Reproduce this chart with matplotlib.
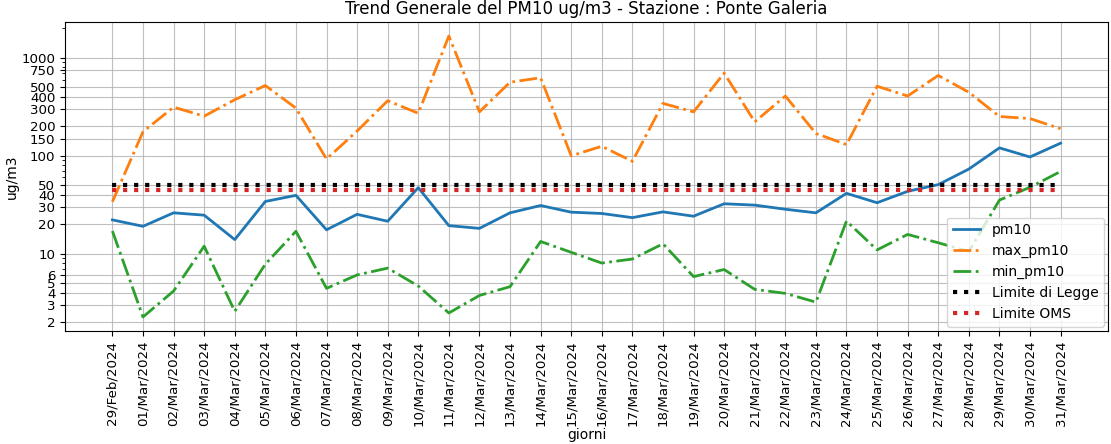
import matplotlib
matplotlib.use("Agg")
import matplotlib.pyplot as plt
import numpy as np

days = ["29/Feb/2024"] + [f"{d:02d}/Mar/2024" for d in range(1, 32)]

pm10 = [22.1, 19.0, 26.1, 24.7, 13.9, 34.1, 39.4, 17.5, 25.2, 21.4, 47.2,
        19.3, 18.1, 26.1, 31.0, 26.5, 25.7, 23.3, 26.7, 24.1, 32.3, 31.3,
        28.4, 26.1, 41.3, 33.1, 43.3, 50.7, 73.1, 120.4, 97.2, 134.5]
max_pm10 = [33.9, 176, 314, 254, 374, 522, 307, 92.7, 179, 365, 272,
            1675, 281, 565, 627, 100, 125, 87.7, 343, 281, 700, 222,
            408, 169, 130, 514, 408, 662, 446, 252, 240, 189]
min_pm10 = [17.0, 2.25, 4.14, 11.9, 2.57, 7.8, 16.9, 4.41, 6.05, 7.1, 4.66,
            2.47, 3.73, 4.59, 13.3, 10.3, 8.0, 8.8, 12.6, 5.82, 6.87, 4.31,
            3.92, 3.19, 21.5, 10.9, 15.7, 12.9, 10.5, 35.2, 47.6, 69.1]
limite_legge = [50] * len(days)
limite_oms = [45] * len(days)

yticks = [2, 3, 4, 5, 6, 10, 20, 30, 40, 50, 100, 150, 200, 300, 400, 500, 750, 1000]

fig = plt.figure(figsize=(11.11, 4.44), dpi=100)
ax = fig.add_axes([0.0585, 0.2545, 0.9388, 0.696])

x = np.arange(len(days))
ax.plot(x, pm10, '-', color='#1f77b4', lw=2, label='pm10')
ax.plot(x, max_pm10, '-.', color='#ff7f0e', lw=2, label='max_pm10')
ax.plot(x, min_pm10, '-.', color='#2ca02c', lw=2, label='min_pm10')
ax.plot(x, limite_legge, ':', color='black', lw=3, label='Limite di Legge')
ax.plot(x, limite_oms, ':', color='#d62728', lw=3, label='Limite OMS')

ax.set_yscale('log')
ax.set_yticks(yticks)
ax.set_yticklabels([str(t) for t in yticks])
ax.set_xticks(x)
ax.set_xticklabels(days, rotation=90)
ax.tick_params(labelsize=9.6)
ax.grid(True, which='major', color='#b0b0b0', lw=0.8, alpha=0.8)

ax.set_title("Trend Generale del PM10 ug/m3 - Stazione : Ponte Galeria", fontsize=12)
ax.set_xlabel("giorni", fontsize=10, labelpad=1)
ax.set_ylabel("ug/m3", fontsize=10, labelpad=2)
ax.legend(loc='lower right', fontsize=10, borderaxespad=0.3)

fig.savefig("out.png", dpi=100)
